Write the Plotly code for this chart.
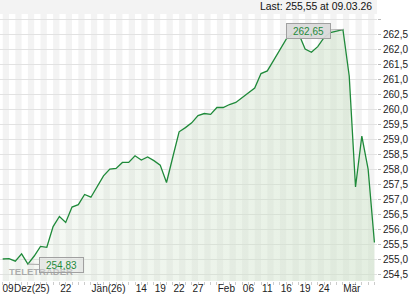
import plotly.graph_objects as go

# ---- data ----
values = [255.00, 255.01, 254.93, 255.17, 254.83, 255.10, 255.42, 255.39, 256.08, 256.42,
          256.22, 256.73, 256.81, 257.15, 257.06, 257.40, 257.77, 258.00, 258.02, 258.22,
          258.22, 258.44, 258.30, 258.40, 258.28, 258.13, 257.55, 258.40, 259.24, 259.38,
          259.54, 259.78, 259.85, 259.82, 260.05, 260.05, 260.15, 260.22, 260.38, 260.55,
          260.70, 261.18, 261.27, 261.62, 261.97, 262.33, 262.50, 262.50, 262.00, 261.89,
          262.08, 262.38, 262.55, 262.60, 262.65, 261.10, 257.40, 259.10, 258.00, 255.55]
x_idx = list(range(len(values)))

x_tick_labels = ["09", "Dez(25)", "22", "Jän(26)", "14", "19", "22", "27",
                 "Feb", "06", "11", "16", "19", "24", "Mär"]
x_tick_pos = [0.84, 4.6, 10, 16.8, 22, 25, 28, 31, 35.5, 39, 42, 45, 48, 51, 55.4]

y_tick_vals = [254.5 + 0.5 * k for k in range(18)]  # 254.5 ... 263.0
y_tick_text = [f"{v:.1f}".replace(".", ",") for v in y_tick_vals]
y_tick_text[-1] = ""

last_date = "09.03.26"

def fmt(v):
    return f"{v:.2f}".replace(".", ",")

LINE = "#1f8a3a"
FONT = "Arial, Liberation Sans, sans-serif"

fig = go.Figure()
fig.add_trace(go.Scatter(
    x=x_idx, y=values, mode="lines",
    line=dict(color=LINE, width=1.3),
    fill="tozeroy",
    fillgradient=dict(type="horizontal",
                      colorscale=[[0, "rgba(205,225,200,0.15)"],
                                  [1, "rgba(205,225,200,0.55)"]]),
    hoverinfo="skip", showlegend=False,
))

# alternating vertical day stripes
shapes = []
for k in range(len(values) // 2):
    shapes.append(dict(type="rect", xref="x", yref="paper", x0=2 * k, x1=2 * k + 1,
                       y0=0, y1=1, fillcolor="#f3f3f3", line_width=0, layer="below"))
# top gray band
shapes.append(dict(type="rect", xref="paper", yref="paper", x0=0, x1=1, y0=1, y1=1.053,
                   fillcolor="#f3f3f3", line_width=0, layer="below"))

imax = max(x_idx, key=lambda i: values[i])
imin = min(x_idx, key=lambda i: values[i])

annotations = [
    dict(xref="paper", yref="paper", x=41 / 377, y=0.037, xanchor="center", yanchor="middle",
         text="<b>TELETRADER</b>",
         showarrow=False, font=dict(family=FONT, size=9.5, color="rgba(150,150,150,0.75)")),
    dict(x=imax, y=values[imax], text=fmt(values[imax]), showarrow=True,
         ax=-34, ay=1, arrowhead=0, arrowwidth=1, arrowcolor="#a8a8a8",
         bgcolor="rgba(218,218,218,0.95)", bordercolor="#a0a0a0", borderwidth=1, borderpad=1.5,
         font=dict(family=FONT, size=10, color=LINE), width=40),
    dict(x=imin, y=values[imin], text=fmt(values[imin]), showarrow=True,
         ax=34, ay=1, arrowhead=0, arrowwidth=1, arrowcolor="#a8a8a8",
         bgcolor="rgba(225,225,225,0.45)", bordercolor="#a0a0a0", borderwidth=1, borderpad=1.5,
         font=dict(family=FONT, size=10, color=LINE), width=40),
    dict(xref="paper", yref="paper", x=374 / 377, y=1 + 7.5 / 267, xanchor="right",
         yanchor="middle", showarrow=False,
         text=f"Last: {fmt(values[-1])} at {last_date}",
         font=dict(family=FONT, size=10.4, color="#111111")),
]

fig.update_layout(
    width=420, height=300,
    margin=dict(l=0, r=43, t=14, b=19, autoexpand=False),
    paper_bgcolor="white", plot_bgcolor="white",
    separators=",.",
    shapes=shapes, annotations=annotations,
    xaxis=dict(range=[-0.43, 59.41], showgrid=False, zeroline=False, showline=False,
               automargin=False, tickangle=0,
               tickmode="array", tickvals=x_tick_pos, ticktext=x_tick_labels,
               ticks="", tickfont=dict(family=FONT, size=10, color="#222222"),
               minor=dict(ticks="outside", tickmode="linear", tick0=0, dtick=1,
                          ticklen=3, tickcolor="#cccccc", showgrid=False)),
    yaxis=dict(range=[254.267, 263.167], side="right", showgrid=True, gridcolor="#e2e2e2",
               gridwidth=1, zeroline=False, showline=False, automargin=False,
               tickmode="array", tickvals=y_tick_vals, ticktext=y_tick_text,
               ticks="outside", ticklen=3, tickcolor="#bbbbbb",
               tickfont=dict(family=FONT, size=10, color="#222222")),
)

fig.write_html("out.html")
